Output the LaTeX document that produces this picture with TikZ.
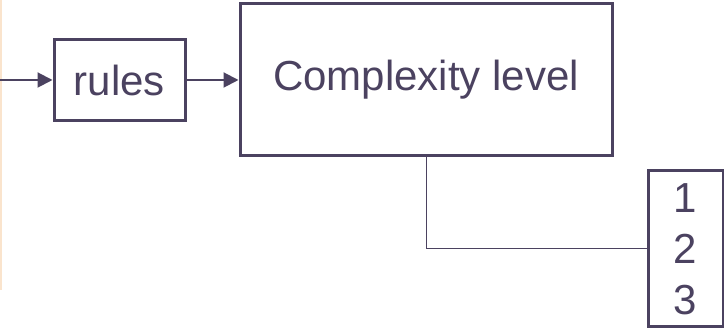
\documentclass[tikz,border=0pt]{standalone}
\usepackage{fontspec}
\setmainfont{Liberation Sans}
\usetikzlibrary{arrows.meta, positioning}
\definecolor{ink}{RGB}{75,66,96}
\definecolor{peach}{RGB}{250,228,205}
\tikzstyle{arrow} = [line width=1pt, ink, -{Triangle[length=7.5pt,width=7.5pt]}]
\tikzstyle{box} = [draw=ink, line width=1.5pt, text=ink, inner sep=0pt, font=\fontsize{21}{25}\selectfont]

\begin{document}
\begin{tikzpicture}[x=0.5pt, y=-0.5pt]
    \useasboundingbox (0,0) rectangle (724,330);
    \draw[peach, line width=0.6pt] (1,0) -- (1,290);
    \coordinate (in) at (0,80);
    \node[box, minimum width=65.5pt, minimum height=40.5pt] (rules) at (119.5,80) {rules};
    \node[box, minimum width=186pt, minimum height=76pt] (level) at (426,80) {Complexity level};
    \node[box, minimum width=37.5pt, minimum height=78pt, align=center,
          font=\fontsize{21}{25.5}\selectfont] (levels) at (685.5,249) {1\\2\\3};
    \draw[arrow] (in) -- (rules.west);
    \draw[arrow] (rules.east) -- (level.west);
    \draw[ink, line width=0.5pt] (level.south) |- (levels.west);
\end{tikzpicture}
\end{document}
